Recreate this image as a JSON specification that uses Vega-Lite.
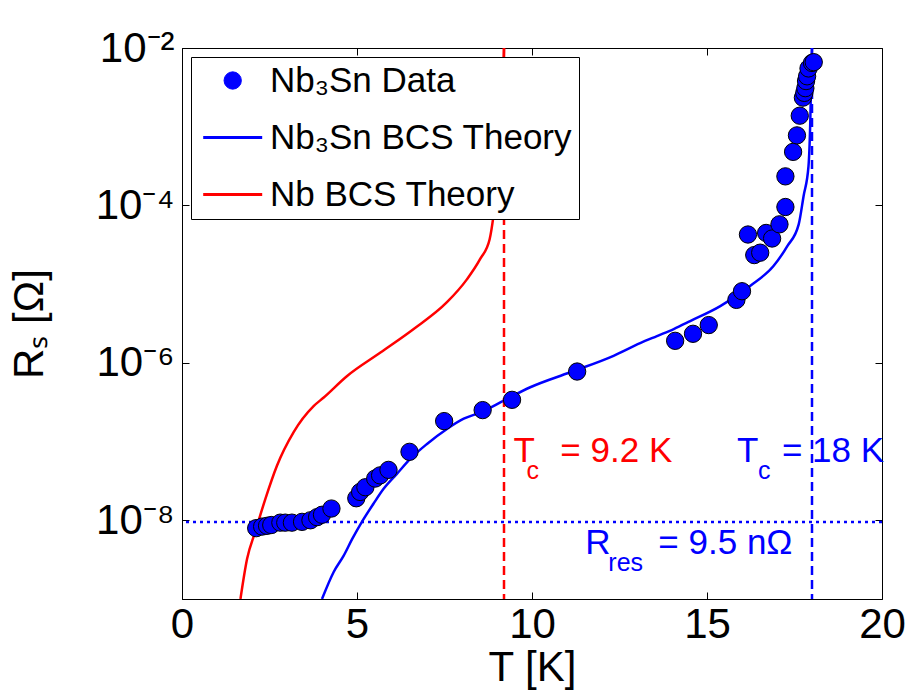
{
  "$schema": "https://vega.github.io/schema/vega-lite/v6.json",
  "width": 700,
  "height": 551,
  "autosize": {"type": "none"},
  "padding": {"left": 182, "top": 48, "right": 24, "bottom": 95},
  "background": "white",
  "config": {
    "view": {"stroke": "black", "strokeWidth": 1},
    "font": "Liberation Sans",
    "axis": {
      "grid": false, "domainColor": "black", "tickColor": "black", "labelColor": "black", "titleColor": "black",
      "labelFont": "Liberation Sans", "titleFont": "Liberation Sans", "labelFontSize": 42, "titleFontSize": 42,
      "titleFontWeight": "normal", "tickSize": -7, "tickWidth": 1, "domainWidth": 1, "labelFlush": false
    }
  },
  "datasets": {
    "pts": [
      {"series": "Nb₃Sn Data", "T": 2.12, "R": 7.94e-9},
      {"series": "Nb₃Sn Data", "T": 2.29, "R": 8.32e-9},
      {"series": "Nb₃Sn Data", "T": 2.43, "R": 8.51e-9},
      {"series": "Nb₃Sn Data", "T": 2.55, "R": 8.71e-9},
      {"series": "Nb₃Sn Data", "T": 2.81, "R": 9.33e-9},
      {"series": "Nb₃Sn Data", "T": 2.95, "R": 9.33e-9},
      {"series": "Nb₃Sn Data", "T": 3.14, "R": 9.33e-9},
      {"series": "Nb₃Sn Data", "T": 3.43, "R": 9.55e-9},
      {"series": "Nb₃Sn Data", "T": 3.67, "R": 1.0e-8},
      {"series": "Nb₃Sn Data", "T": 3.86, "R": 1.096e-8},
      {"series": "Nb₃Sn Data", "T": 4.0, "R": 1.175e-8},
      {"series": "Nb₃Sn Data", "T": 4.27, "R": 1.41e-8},
      {"series": "Nb₃Sn Data", "T": 4.98, "R": 1.905e-8},
      {"series": "Nb₃Sn Data", "T": 5.09, "R": 2.29e-8},
      {"series": "Nb₃Sn Data", "T": 5.24, "R": 2.63e-8},
      {"series": "Nb₃Sn Data", "T": 5.52, "R": 3.39e-8},
      {"series": "Nb₃Sn Data", "T": 5.66, "R": 3.72e-8},
      {"series": "Nb₃Sn Data", "T": 5.9, "R": 4.37e-8},
      {"series": "Nb₃Sn Data", "T": 6.5, "R": 7.41e-8},
      {"series": "Nb₃Sn Data", "T": 7.49, "R": 1.82e-7},
      {"series": "Nb₃Sn Data", "T": 8.59, "R": 2.51e-7},
      {"series": "Nb₃Sn Data", "T": 9.43, "R": 3.39e-7},
      {"series": "Nb₃Sn Data", "T": 11.29, "R": 7.76e-7},
      {"series": "Nb₃Sn Data", "T": 14.09, "R": 1.905e-6},
      {"series": "Nb₃Sn Data", "T": 14.6, "R": 2.34e-6},
      {"series": "Nb₃Sn Data", "T": 15.05, "R": 3.02e-6},
      {"series": "Nb₃Sn Data", "T": 15.84, "R": 6.31e-6},
      {"series": "Nb₃Sn Data", "T": 16.0, "R": 8.13e-6},
      {"series": "Nb₃Sn Data", "T": 16.35, "R": 2.34e-5},
      {"series": "Nb₃Sn Data", "T": 16.52, "R": 2.51e-5},
      {"series": "Nb₃Sn Data", "T": 16.17, "R": 4.27e-5},
      {"series": "Nb₃Sn Data", "T": 16.69, "R": 4.47e-5},
      {"series": "Nb₃Sn Data", "T": 16.86, "R": 3.8e-5},
      {"series": "Nb₃Sn Data", "T": 17.07, "R": 5.75e-5},
      {"series": "Nb₃Sn Data", "T": 17.24, "R": 9.55e-5},
      {"series": "Nb₃Sn Data", "T": 17.24, "R": 2.34e-4},
      {"series": "Nb₃Sn Data", "T": 17.46, "R": 4.79e-4},
      {"series": "Nb₃Sn Data", "T": 17.57, "R": 7.76e-4},
      {"series": "Nb₃Sn Data", "T": 17.65, "R": 1.38e-3},
      {"series": "Nb₃Sn Data", "T": 17.74, "R": 2.34e-3},
      {"series": "Nb₃Sn Data", "T": 17.78, "R": 2.69e-3},
      {"series": "Nb₃Sn Data", "T": 17.81, "R": 3.09e-3},
      {"series": "Nb₃Sn Data", "T": 17.83, "R": 3.8e-3},
      {"series": "Nb₃Sn Data", "T": 17.86, "R": 4.37e-3},
      {"series": "Nb₃Sn Data", "T": 17.9, "R": 5.5e-3},
      {"series": "Nb₃Sn Data", "T": 18.0, "R": 6.46e-3},
      {"series": "Nb₃Sn Data", "T": 18.05, "R": 6.61e-3}
    ],
    "theory": [
      {"series": "Nb₃Sn BCS Theory", "T": 4.0, "R": 1.0e-9},
      {"series": "Nb₃Sn BCS Theory", "T": 4.33, "R": 2.19e-9},
      {"series": "Nb₃Sn BCS Theory", "T": 4.62, "R": 3.55e-9},
      {"series": "Nb₃Sn BCS Theory", "T": 4.86, "R": 5.75e-9},
      {"series": "Nb₃Sn BCS Theory", "T": 5.14, "R": 9.55e-9},
      {"series": "Nb₃Sn BCS Theory", "T": 5.47, "R": 1.62e-8},
      {"series": "Nb₃Sn BCS Theory", "T": 5.76, "R": 2.51e-8},
      {"series": "Nb₃Sn BCS Theory", "T": 6.14, "R": 3.89e-8},
      {"series": "Nb₃Sn BCS Theory", "T": 6.52, "R": 6.03e-8},
      {"series": "Nb₃Sn BCS Theory", "T": 7.0, "R": 9.33e-8},
      {"series": "Nb₃Sn BCS Theory", "T": 7.57, "R": 1.445e-7},
      {"series": "Nb₃Sn BCS Theory", "T": 8.05, "R": 1.95e-7},
      {"series": "Nb₃Sn BCS Theory", "T": 8.52, "R": 2.34e-7},
      {"series": "Nb₃Sn BCS Theory", "T": 9.19, "R": 3.31e-7},
      {"series": "Nb₃Sn BCS Theory", "T": 9.95, "R": 4.9e-7},
      {"series": "Nb₃Sn BCS Theory", "T": 11.09, "R": 7.59e-7},
      {"series": "Nb₃Sn BCS Theory", "T": 12.33, "R": 1.23e-6},
      {"series": "Nb₃Sn BCS Theory", "T": 13.09, "R": 1.78e-6},
      {"series": "Nb₃Sn BCS Theory", "T": 13.57, "R": 2.19e-6},
      {"series": "Nb₃Sn BCS Theory", "T": 14.05, "R": 2.69e-6},
      {"series": "Nb₃Sn BCS Theory", "T": 14.52, "R": 3.39e-6},
      {"series": "Nb₃Sn BCS Theory", "T": 15.38, "R": 5.25e-6},
      {"series": "Nb₃Sn BCS Theory", "T": 16.24, "R": 9.55e-6},
      {"series": "Nb₃Sn BCS Theory", "T": 16.9, "R": 1.7e-5},
      {"series": "Nb₃Sn BCS Theory", "T": 17.29, "R": 3.02e-5},
      {"series": "Nb₃Sn BCS Theory", "T": 17.62, "R": 5.75e-5},
      {"series": "Nb₃Sn BCS Theory", "T": 17.76, "R": 1.32e-4},
      {"series": "Nb₃Sn BCS Theory", "T": 17.9, "R": 3.16e-4},
      {"series": "Nb₃Sn BCS Theory", "T": 17.95, "R": 1.12e-3},
      {"series": "Nb₃Sn BCS Theory", "T": 17.98, "R": 4.9e-3},
      {"series": "Nb₃Sn BCS Theory", "T": 18.0, "R": 1.0e-2},
      {"series": "Nb BCS Theory", "T": 1.67, "R": 1.0e-9},
      {"series": "Nb BCS Theory", "T": 1.86, "R": 3.24e-9},
      {"series": "Nb BCS Theory", "T": 2.09, "R": 7.08e-9},
      {"series": "Nb BCS Theory", "T": 2.38, "R": 1.86e-8},
      {"series": "Nb BCS Theory", "T": 2.71, "R": 4.9e-8},
      {"series": "Nb BCS Theory", "T": 3.19, "R": 1.32e-7},
      {"series": "Nb BCS Theory", "T": 3.76, "R": 2.82e-7},
      {"series": "Nb BCS Theory", "T": 4.05, "R": 3.63e-7},
      {"series": "Nb BCS Theory", "T": 4.71, "R": 6.76e-7},
      {"series": "Nb BCS Theory", "T": 5.67, "R": 1.35e-6},
      {"series": "Nb BCS Theory", "T": 6.62, "R": 2.69e-6},
      {"series": "Nb BCS Theory", "T": 7.57, "R": 5.89e-6},
      {"series": "Nb BCS Theory", "T": 8.14, "R": 1.15e-5},
      {"series": "Nb BCS Theory", "T": 8.52, "R": 2.09e-5},
      {"series": "Nb BCS Theory", "T": 8.79, "R": 3.72e-5},
      {"series": "Nb BCS Theory", "T": 8.9, "R": 7.41e-5},
      {"series": "Nb BCS Theory", "T": 9.05, "R": 3.16e-4},
      {"series": "Nb BCS Theory", "T": 9.15, "R": 1.58e-3},
      {"series": "Nb BCS Theory", "T": 9.2, "R": 1.0e-2}
    ],
    "tcNb": [{"T": 9.2}],
    "tcNb3Sn": [{"T": 18.0}],
    "rres": [{"R": 9.5e-9}],
    "redMain": [
      {"T": 9.47, "R": 5.5e-8, "text": "T"},
      {"T": 10.81, "R": 5.5e-8, "text": "= 9.2 K"}
    ],
    "redSub": [
      {"T": 9.84, "R": 3.34e-8, "text": "c"}
    ],
    "blueMain": [
      {"T": 15.86, "R": 5.5e-8, "text": "T"},
      {"T": 17.14, "R": 5.5e-8, "text": "= 18 K"},
      {"T": 11.52, "R": 3.72e-9, "text": "R"},
      {"T": 13.61, "R": 3.72e-9, "text": "= 9.5 nΩ"}
    ],
    "blueSub": [
      {"T": 16.46, "R": 3.34e-8, "text": "c"},
      {"T": 12.18, "R": 2.29e-9, "text": "res"}
    ]
  },
  "layer": [
    {
      "data": {"name": "theory"},
      "mark": {"type": "line", "strokeWidth": 2.5, "clip": true, "interpolate": "monotone"},
      "encoding": {
        "x": {"field": "T", "type": "quantitative", "scale": {"domain": [0, 20], "nice": false, "zero": false},
          "axis": {"values": [0, 5, 10, 15, 20], "title": "T [K]", "labelPadding": 12, "titlePadding": 2}},
        "y": {"field": "R", "type": "quantitative", "scale": {"type": "log", "domain": [1e-9, 1e-2], "nice": false},
          "axis": {"values": [1e-8, 1e-6, 1e-4, 1e-2], "title": "Rₛ [Ω]", "labelPadding": 15, "titlePadding": 44,
            "labelExpr": "round(log(datum.value)/LN10) == -2 ? '10⁻²' : round(log(datum.value)/LN10) == -4 ? '10⁻⁴' : round(log(datum.value)/LN10) == -6 ? '10⁻⁶' : '10⁻⁸'"}},
        "color": {"field": "series", "type": "nominal",
          "scale": {"domain": ["Nb₃Sn Data", "Nb₃Sn BCS Theory", "Nb BCS Theory"], "range": ["#0000ff", "#0000ff", "#ff0000"]},
          "legend": {
            "title": null, "orient": "top-left", "offset": 9, "fillColor": "white", "strokeColor": "black",
            "padding": 6, "labelFontSize": 35, "labelFont": "Liberation Sans", "labelColor": "black",
            "symbolSize": 3481, "rowPadding": 21, "labelOffset": 38, "labelLimit": 0,
            "encode": {
              "symbols": {"update": {
                "x": {"value": 35.7},
                "shape": {"signal": "datum.index === 0 ? 'circle' : 'stroke'"},
                "size": {"signal": "datum.index === 0 ? 300 : 3481"},
                "fill": {"signal": "datum.index === 0 ? '#0000ff' : 'transparent'"},
                "stroke": {"signal": "datum.index === 0 ? 'black' : (datum.index === 1 ? '#0000ff' : '#ff0000')"},
                "strokeWidth": {"signal": "datum.index === 0 ? 1 : 3"},
                "opacity": {"value": 1}
              }}
            }
          }}
      }
    },
    {
      "data": {"name": "tcNb"},
      "mark": {"type": "rule", "color": "#ff0000", "strokeWidth": 2.5, "strokeDash": [9, 5]},
      "encoding": {
        "x": {"field": "T", "type": "quantitative", "scale": {"domain": [0, 20], "nice": false, "zero": false},
          "axis": {"orient": "top", "values": [0, 5, 10, 15, 20], "labels": false, "title": null, "domain": false}}
      }
    },
    {
      "data": {"name": "tcNb3Sn"},
      "mark": {"type": "rule", "color": "#0000ff", "strokeWidth": 2.5, "strokeDash": [9, 5]},
      "encoding": {
        "x": {"field": "T", "type": "quantitative", "scale": {"domain": [0, 20], "nice": false, "zero": false}, "axis": null}
      }
    },
    {
      "data": {"name": "rres"},
      "mark": {"type": "rule", "color": "#0000ff", "strokeWidth": 2.5, "strokeDash": [3, 4]},
      "encoding": {
        "y": {"field": "R", "type": "quantitative", "scale": {"type": "log", "domain": [1e-9, 1e-2], "nice": false},
          "axis": {"orient": "right", "values": [1e-8, 1e-6, 1e-4, 1e-2], "labels": false, "title": null, "domain": false}}
      }
    },
    {
      "data": {"name": "pts"},
      "mark": {"type": "point", "filled": true, "size": 300, "stroke": "black", "strokeWidth": 1, "opacity": 1},
      "encoding": {
        "x": {"field": "T", "type": "quantitative", "scale": {"domain": [0, 20], "nice": false, "zero": false}, "axis": null},
        "y": {"field": "R", "type": "quantitative", "scale": {"type": "log", "domain": [1e-9, 1e-2], "nice": false}, "axis": null},
        "color": {"field": "series", "type": "nominal"}
      }
    },
    {
      "data": {"name": "redMain"},
      "mark": {"type": "text", "color": "#ff0000", "fontSize": 35, "font": "Liberation Sans", "align": "left", "baseline": "alphabetic"},
      "encoding": {
        "x": {"field": "T", "type": "quantitative", "axis": null},
        "y": {"field": "R", "type": "quantitative", "axis": null},
        "text": {"field": "text"}
      }
    },
    {
      "data": {"name": "redSub"},
      "mark": {"type": "text", "color": "#ff0000", "fontSize": 25, "font": "Liberation Sans", "align": "left", "baseline": "alphabetic"},
      "encoding": {
        "x": {"field": "T", "type": "quantitative", "axis": null},
        "y": {"field": "R", "type": "quantitative", "axis": null},
        "text": {"field": "text"}
      }
    },
    {
      "data": {"name": "blueMain"},
      "mark": {"type": "text", "color": "#0000ff", "fontSize": 35, "font": "Liberation Sans", "align": "left", "baseline": "alphabetic"},
      "encoding": {
        "x": {"field": "T", "type": "quantitative", "axis": null},
        "y": {"field": "R", "type": "quantitative", "axis": null},
        "text": {"field": "text"}
      }
    },
    {
      "data": {"name": "blueSub"},
      "mark": {"type": "text", "color": "#0000ff", "fontSize": 25, "font": "Liberation Sans", "align": "left", "baseline": "alphabetic"},
      "encoding": {
        "x": {"field": "T", "type": "quantitative", "axis": null},
        "y": {"field": "R", "type": "quantitative", "axis": null},
        "text": {"field": "text"}
      }
    }
  ],
  "resolve": {"axis": {"x": "independent", "y": "independent"}}
}
